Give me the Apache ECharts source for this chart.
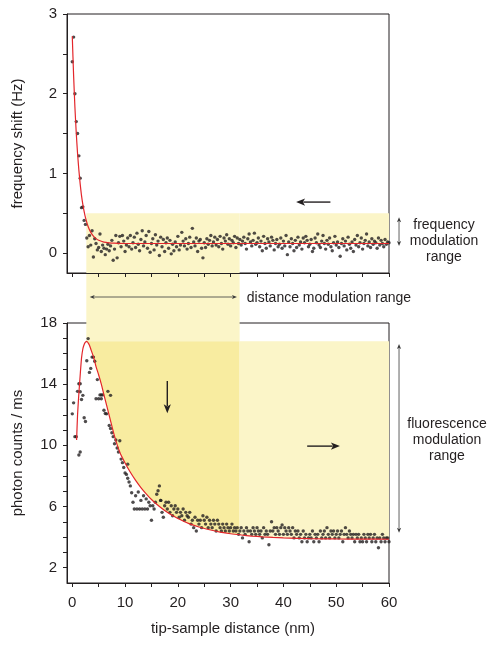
<!DOCTYPE html>
<html><head><meta charset="utf-8">
<script src="https://cdn.jsdelivr.net/npm/echarts@6/dist/echarts.min.js"></script>
<style>html,body{margin:0;padding:0;background:#fff}#c{width:497px;height:645px}</style>
</head><body><div id="c"></div>
<script>
// ---------- data ----------
const distance = [
0,0.25,0.5,0.75,1,1.25,1.5,1.75,2,2.25,2.5,2.75,3,3.25,3.5,3.75,4,4.25,4.5,4.75,
5,5.25,5.5,5.75,6,6.25,6.5,6.75,7,7.25,7.5,7.75,8,8.25,8.5,8.75,9,9.25,9.5,9.75,
10,10.25,10.5,10.75,11,11.25,11.5,11.75,12,12.25,12.5,12.75,13,13.25,13.5,13.75,14,14.25,14.5,14.75,
15,15.25,15.5,15.75,16,16.25,16.5,16.75,17,17.25,17.5,17.75,18,18.25,18.5,18.75,19,19.25,19.5,19.75,
20,20.25,20.5,20.75,21,21.25,21.5,21.75,22,22.25,22.5,22.75,23,23.25,23.5,23.75,24,24.25,24.5,24.75,
25,25.25,25.5,25.75,26,26.25,26.5,26.75,27,27.25,27.5,27.75,28,28.25,28.5,28.75,29,29.25,29.5,29.75,
30,30.25,30.5,30.75,31,31.25,31.5,31.75,32,32.25,32.5,32.75,33,33.25,33.5,33.75,34,34.25,34.5,34.75,
35,35.25,35.5,35.75,36,36.25,36.5,36.75,37,37.25,37.5,37.75,38,38.25,38.5,38.75,39,39.25,39.5,39.75,
40,40.25,40.5,40.75,41,41.25,41.5,41.75,42,42.25,42.5,42.75,43,43.25,43.5,43.75,44,44.25,44.5,44.75,
45,45.25,45.5,45.75,46,46.25,46.5,46.75,47,47.25,47.5,47.75,48,48.25,48.5,48.75,49,49.25,49.5,49.75,
50,50.25,50.5,50.75,51,51.25,51.5,51.75,52,52.25,52.5,52.75,53,53.25,53.5,53.75,54,54.25,54.5,54.75,
55,55.25,55.5,55.75,56,56.25,56.5,56.75,57,57.25,57.5,57.75,58,58.25,58.5,58.75,59,59.25,59.5,59.75,
60];

const freqShift = [
2.40,2.71,2.00,1.65,1.50,1.22,0.94,0.57,0.58,0.41,
0.36,0.19,0.08,0.22,0.10,0.28,-0.05,0.18,0.12,0.04,
0.07,0.24,0.02,0.10,0.06,-0.02,0.05,0.11,0.03,0.09,
0.16,-0.09,0.05,0.22,-0.06,0.13,0.21,0.08,0.22,0.15,
0.02,0.10,0.19,0.08,0.22,0.05,0.13,0.20,0.07,0.25,
0.11,0.03,0.17,0.28,0.09,0.14,0.22,0.06,0.27,0.01,
0.12,0.18,0.04,0.23,0.10,0.15,-0.03,0.20,0.08,0.17,
0.02,0.13,0.19,0.06,0.16,-0.01,0.11,0.03,0.14,0.08,
0.21,0.04,0.10,0.26,0.15,0.09,0.18,0.05,0.12,0.20,
0.07,0.31,0.14,0.09,0.19,0.02,0.15,0.17,0.06,-0.06,
0.13,0.07,0.18,0.11,0.16,0.22,0.09,0.14,0.20,0.10,
0.17,0.08,0.21,0.12,0.05,0.19,0.15,0.23,0.11,0.18,
0.09,0.16,0.13,0.21,0.07,0.19,0.12,0.17,0.10,0.15,
0.20,0.12,0.05,0.18,0.24,0.14,0.09,0.16,0.25,0.11,
0.13,0.19,0.08,0.15,0.03,0.21,0.12,0.06,0.18,0.14,
0.09,0.20,0.16,0.04,0.12,0.17,0.08,0.11,0.19,0.06,
0.15,0.09,0.22,-0.02,0.14,0.08,0.18,0.12,0.03,0.16,
0.07,0.20,0.10,0.14,0.05,0.19,0.13,0.21,0.16,0.08,
0.11,0.17,0.02,0.06,0.19,0.13,0.24,0.10,0.07,0.15,
0.22,0.12,0.05,0.16,0.11,0.19,0.08,0.03,0.13,0.21,
0.10,0.14,0.07,-0.04,0.12,0.18,0.09,0.15,0.04,0.20,
0.11,0.06,0.14,0.02,0.17,0.10,0.22,0.08,0.13,0.19,
0.05,0.12,0.16,0.24,0.09,0.14,0.07,0.18,0.11,0.15,
0.13,0.06,0.19,0.10,0.16,0.12,0.08,0.17,0.11,0.14,
0.13];

const photonCounts = [
12.06,12.78,10.57,10.57,13.53,14.03,14.03,13.00,13.27,11.80,
11.56,15.53,16.98,14.77,15.03,15.77,15.77,15.50,13.05,14.30,
13.05,13.30,13.05,13.30,12.30,12.08,12.06,13.53,11.30,11.10,
10.82,10.57,10.10,10.35,9.83,9.57,10.30,9.10,8.87,8.55,
8.20,8.10,7.85,7.60,7.35,6.90,6.28,5.84,6.70,5.84,
6.95,5.84,6.40,5.84,6.70,5.84,6.50,5.84,6.28,6.05,
5.10,6.05,5.84,6.28,6.80,7.03,7.35,6.40,5.62,5.30,
6.05,6.28,5.84,6.28,5.62,6.05,5.40,5.84,6.05,5.62,
5.84,5.30,5.62,5.40,5.84,5.10,5.62,5.40,5.30,5.62,
4.85,5.10,4.62,5.30,4.40,5.10,4.85,5.10,4.62,5.40,
5.10,4.85,5.30,4.62,5.10,4.85,4.62,5.10,4.85,4.40,
5.10,4.85,4.62,4.40,4.85,4.62,4.40,4.85,4.62,4.40,
4.62,4.85,4.40,4.62,4.40,4.62,4.18,4.40,4.62,3.95,
4.40,4.18,4.62,4.40,3.70,4.40,4.18,4.62,4.40,4.18,
4.62,4.40,4.18,4.40,3.95,4.62,4.18,4.40,4.18,3.50,
4.40,5.00,4.40,4.62,4.18,4.62,4.40,4.18,4.62,4.80,
4.18,4.62,4.40,4.18,4.62,4.40,4.18,4.62,3.95,4.40,
4.18,4.40,3.95,4.18,3.70,4.40,3.95,4.18,3.70,3.95,
4.18,3.95,4.40,3.70,4.18,3.95,4.18,3.70,4.40,3.95,
4.18,4.40,3.95,4.62,4.18,3.95,4.40,4.18,4.40,3.95,
4.18,4.40,3.95,4.18,4.40,3.70,4.18,4.62,4.18,3.95,
4.40,4.18,3.95,4.18,3.70,4.18,3.95,4.18,3.70,3.95,
3.70,4.18,3.95,3.70,4.18,3.95,4.18,3.70,3.95,4.18,
3.70,3.95,3.30,3.95,3.70,4.18,3.95,3.70,3.95,3.95,
3.70];

const extraDistance = [1.25, 1.5, 1.5, 7.25, 10.5, 5.5, 16.75];
const extraCounts   = [9.37, 9.57, 13.5, 13.27, 8.77, 13.3, 6.4];

const freqFitDistance = [0,0.25,0.5,0.75,1,1.25,1.5,1.75,2,2.25,2.5,3,3.5,4,4.5,5,6,7,8,10,20,30,40,50,60];
const freqFit         = [2.72,2.23,1.83,1.51,1.25,1.04,0.865,0.72,0.61,0.52,0.444,0.333,0.26,0.213,0.181,0.16,0.137,0.128,0.124,0.12,0.12,0.12,0.12,0.12,0.12];

const countFitDistance = [0.82,1,1.25,1.5,1.75,2,2.25,2.5,2.75,3,3.25,3.5,4,4.5,5,5.5,6,7,8,9,10,11,12,13,14,15,16,17,18,19,20,22,24,26,28,30,32,34,36,38,40,45,50,55,60];
const countFit         = [10.35,12.0,13.4,14.6,15.7,16.3,16.6,16.75,16.8,16.7,16.55,16.3,15.8,15.15,14.6,14.0,13.3,11.95,10.6,9.55,8.85,8.24,7.71,7.24,6.83,6.46,6.15,5.87,5.62,5.41,5.22,4.90,4.66,4.48,4.33,4.22,4.14,4.07,4.02,3.98,3.95,3.90,3.88,3.87,3.86];

const distanceTicks  = [0,5,10,15,20,25,30,35,40,45,50,55,60];
const distanceLabels = [0,10,20,30,40,50,60];
const freqTicks  = [0,0.5,1,1.5,2,2.5,3];
const freqLabels = [0,1,2,3];
const countTicks  = [2,3,4,5,6,7,8,9,10,11,12,13,14,15,16,17,18];
const countLabels = [2,6,10,14,18];

// modulation ranges (data units)
const distModStart = 2.66, distModEnd = 31.7;
const freqModTop = 0.5;
const fluoModTop = 16.8;

// ---------- helpers ----------
const INK = '#231f20';
const LIGHT = '#fbf5c8';
const DARK = '#f8eca0';
const FONT = '"Liberation Sans", Arial, Helvetica, sans-serif';

function interp(xs, ys, x) {
  if (x <= xs[0]) return ys[0];
  for (let i = 1; i < xs.length; i++) {
    if (x <= xs[i]) { const t = (x - xs[i-1]) / (xs[i] - xs[i-1]); return ys[i-1] + t * (ys[i] - ys[i-1]); }
  }
  return ys[ys.length - 1];
}
function curveBand(xs, ys, x0, x1, top, fill) {
  return function (params, api) {
    const pts = [api.coord([x0, top]), api.coord([x0, interp(xs, ys, x0)])];
    for (let i = 0; i < xs.length; i++) if (xs[i] > x0 && xs[i] < x1) pts.push(api.coord([xs[i], ys[i]]));
    pts.push(api.coord([x1, interp(xs, ys, x1)]));
    pts.push(api.coord([x1, top]));
    return { type: 'polygon', shape: { points: pts }, style: { fill: fill }, silent: true };
  };
}
function rectBand(x0, x1, y0, y1, fill) {
  return function (params, api) {
    const pts = [api.coord([x0, y0]), api.coord([x1, y0]), api.coord([x1, y1]), api.coord([x0, y1])];
    return { type: 'polygon', shape: { points: pts }, style: { fill: fill }, silent: true };
  };
}
function customSeries(idx, render) {
  return { type: 'custom', xAxisIndex: idx, yAxisIndex: idx, data: [[distModStart, 0]], renderItem: render, z: 0, silent: true, clip: false };
}
function pairs(xs, ys) { return xs.map((x, i) => [x, ys[i]]); }

function xAxisCfg(grid, labels) {
  return {
    type: 'value', gridIndex: grid, min: -1, max: 60,
    axisLine: { show: true, onZero: false, lineStyle: { color: INK, width: 1 } },
    axisTick: { show: true, length: 4, customValues: distanceTicks, lineStyle: { color: INK } },
    axisLabel: labels ? { show: true, customValues: distanceLabels, color: INK, fontSize: 15, fontFamily: FONT, margin: 12 } : { show: false },
    splitLine: { show: false },
    name: labels ? 'tip-sample distance (nm)' : '',
    nameLocation: 'middle', nameGap: 38,
    nameTextStyle: { color: INK, fontSize: 15, fontFamily: FONT, padding: [0, 0, 0, 10] }
  };
}
function yAxisCfg(grid, min, max, ticks, labels, name) {
  return {
    type: 'value', gridIndex: grid, min: min, max: max,
    axisLine: { show: true, onZero: false, lineStyle: { color: INK, width: 1 } },
    axisTick: { show: true, length: 4, customValues: ticks, lineStyle: { color: INK } },
    axisLabel: { show: true, customValues: labels, color: INK, fontSize: 15, fontFamily: FONT, margin: 10 },
    splitLine: { show: false },
    name: name, nameLocation: 'middle', nameGap: 42,
    nameTextStyle: { color: INK, fontSize: 15, fontFamily: FONT }
  };
}

const chart = echarts.init(document.getElementById('c'), null, { renderer: 'canvas' });
const option = {
  animation: false,
  backgroundColor: '#ffffff',
  grid: [
    { left: 67, top: 14, width: 322, height: 259, show: true, borderColor: INK, borderWidth: 1, backgroundColor: 'transparent' },
    { left: 67, top: 323, width: 322, height: 260, show: true, borderColor: INK, borderWidth: 1, backgroundColor: 'transparent' },
    { left: 67, top: 273, width: 322, height: 50, show: false }
  ],
  xAxis: [
    xAxisCfg(0, false),
    xAxisCfg(1, true),
    { type: 'value', gridIndex: 2, min: -1, max: 60, show: false }
  ],
  yAxis: [
    yAxisCfg(0, -0.25, 3, freqTicks, freqLabels, 'frequency shift (Hz)'),
    yAxisCfg(1, 1, 18, countTicks, countLabels, 'photon counts / ms'),
    { type: 'value', gridIndex: 2, min: 0, max: 1, show: false }
  ],
  series: [
    // shaded modulation ranges
    customSeries(0, rectBand(distModStart, distModEnd, -0.25, freqModTop, LIGHT)),
    customSeries(0, curveBand(freqFitDistance, freqFit, distModEnd, 60, freqModTop, LIGHT)),
    customSeries(2, rectBand(distModStart, distModEnd, 0, 1, LIGHT)),
    customSeries(1, rectBand(distModStart, distModEnd, fluoModTop, 18, LIGHT)),
    customSeries(1, curveBand(countFitDistance, countFit, distModStart, distModEnd, fluoModTop, DARK)),
    customSeries(1, curveBand(countFitDistance, countFit, distModEnd, 60, fluoModTop, LIGHT)),
    // data
    { type: 'scatter', xAxisIndex: 0, yAxisIndex: 0, data: pairs(distance, freqShift), symbolSize: 3.4, itemStyle: { color: INK }, z: 3, silent: true },
    { type: 'line', xAxisIndex: 0, yAxisIndex: 0, data: pairs(freqFitDistance, freqFit), showSymbol: false, smooth: 0.2, lineStyle: { color: '#e3262b', width: 1.2 }, z: 4, silent: true },
    { type: 'scatter', xAxisIndex: 1, yAxisIndex: 1, data: pairs(distance, photonCounts).concat(pairs(extraDistance, extraCounts)), symbolSize: 3.4, itemStyle: { color: INK }, z: 3, silent: true },
    { type: 'line', xAxisIndex: 1, yAxisIndex: 1, data: pairs(countFitDistance, countFit), showSymbol: false, smooth: 0.2, lineStyle: { color: '#e3262b', width: 1.2 }, z: 4, silent: true }
  ]
};
chart.setOption(option);

// ---------- annotations (positions converted through the axes) ----------
function px(grid, v) { return chart.convertToPixel({ gridIndex: grid }, v); }
function arrow(p0, p1, opt) {
  const els = [];
  const dx = p1[0] - p0[0], dy = p1[1] - p0[1];
  const L = Math.sqrt(dx * dx + dy * dy), ux = dx / L, uy = dy / L, nx = -uy, ny = ux;
  const h = opt.head, w = opt.half;
  const s0 = opt.double ? [p0[0] + ux * h * 0.8, p0[1] + uy * h * 0.8] : p0;
  const s1 = [p1[0] - ux * h * 0.8, p1[1] - uy * h * 0.8];
  els.push({ type: 'line', shape: { x1: s0[0], y1: s0[1], x2: s1[0], y2: s1[1] }, style: { stroke: opt.color, lineWidth: opt.width }, z: 10, silent: true });
  function head(tip, sx, sy) {
    const b = [tip[0] - sx * h, tip[1] - sy * h];
    return { type: 'polygon', shape: { points: [tip, [b[0] + nx * w, b[1] + ny * w], [tip[0] - sx * h * 0.75, tip[1] - sy * h * 0.75], [b[0] - nx * w, b[1] - ny * w]] }, style: { fill: opt.color }, z: 10, silent: true };
  }
  els.push(head(p1, ux, uy));
  if (opt.double) els.push(head(p0, -ux, -uy));
  return els;
}
const bold = { head: 9, half: 3.6, width: 1.4, color: INK };
const thin = { head: 5, half: 2.1, width: 0.8, color: '#3a3a3a', double: true };

function label(text, x, y, align) {
  return { type: 'text', x: x, y: y, z: 10, silent: true,
    style: { text: text, fill: INK, font: '14px ' + FONT, align: align || 'center', verticalAlign: 'middle', lineHeight: 16, textAlign: align || 'center', textVerticalAlign: 'middle' } };
}

const annotationX = 61.9;
let g = [];
g = g.concat(arrow(px(0, [48.9, 0.64]), px(0, [42.4, 0.64]), bold));
g = g.concat(arrow(px(0, [annotationX, 0.09]), px(0, [annotationX, 0.45]), thin));
g = g.concat(arrow(px(2, [3.3, 0.52]), px(2, [31.2, 0.52]), thin));
g = g.concat(arrow(px(1, [18, 14.2]), px(1, [18, 12.1]), bold));
g = g.concat(arrow(px(1, [44.5, 9.95]), px(1, [50.7, 9.95]), bold));
g = g.concat(arrow(px(1, [annotationX, 4.28]), px(1, [annotationX, 16.63]), thin));

const fmLabel = px(0, [annotationX, 0.12]);
g.push(label('frequency\nmodulation\nrange', 444, fmLabel[1] - 2));
const dmLabel = px(2, [32.5, 0.52]);
g.push(label('distance modulation range', dmLabel[0] + 3, dmLabel[1] + 1, 'left'));
g.push(label('fluorescence\nmodulation\nrange', 447, 440));

chart.setOption({ graphic: g });
</script>
</body></html>
